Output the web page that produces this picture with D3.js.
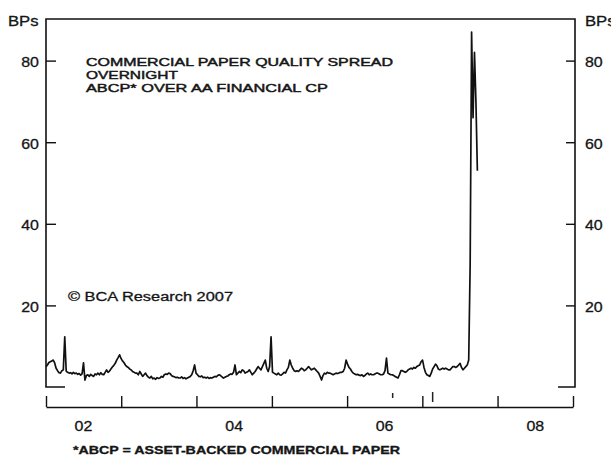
<!DOCTYPE html>
<html>
<head>
<meta charset="utf-8">
<script src="https://d3js.org/d3.v7.min.js"></script>
<style>
  body { margin: 0; background: #fff; }
  svg { display: block; }
  text { font-family: "Liberation Sans", Arial, Helvetica, sans-serif; fill: #151515; stroke: #151515; stroke-width: 0.3px; }
</style>
</head>
<body>
<svg id="chart"></svg>
<script>
// weekly readings, starting first week of 2002 (bp)
const startDate = new Date(2002, 0, 1);
const spread = [
  5.0, 5.4, 6.0, 6.2, 6.4, 6.6, 5.9, 4.6, 4.0, 3.5,
  3.4, 4.0, 4.2, 12.3, 3.9, 3.6, 3.4, 3.5, 3.2, 3.6,
  3.3, 3.4, 3.1, 3.3, 2.9, 3.2, 5.9, 1.7, 2.8, 3.0,
  2.6, 3.1, 2.8, 2.6, 3.2, 3.0, 3.4, 3.0, 3.5, 3.1,
  3.0, 3.6, 4.2, 3.6, 3.9, 4.4, 4.9, 5.3, 5.8, 6.6,
  7.2, 7.9, 7.0, 6.4, 6.0, 5.4, 5.0, 4.8, 4.4, 4.2,
  3.8, 3.6, 3.4, 3.4, 3.0, 3.8, 3.2, 2.6, 3.0, 3.4,
  2.8, 2.4, 2.2, 2.6, 2.0, 2.2, 1.9, 2.3, 2.1, 2.2,
  2.6, 2.4, 3.0, 3.2, 3.1, 3.4, 3.3, 2.8, 2.6, 2.5,
  2.3, 2.4, 2.2, 2.2, 2.5, 2.1, 2.3, 2.0, 2.2, 2.4,
  2.6, 3.0, 4.0, 5.4, 3.4, 3.0, 2.6, 2.5, 2.7, 2.3,
  2.4, 2.2, 2.4, 2.1, 2.3, 2.2, 2.4, 2.6, 2.5, 2.8,
  3.0, 2.8, 2.5, 2.2, 2.4, 2.6, 2.7, 3.0, 3.2, 3.1,
  3.6, 5.4, 3.0, 3.4, 3.8, 3.5, 4.2, 4.0, 3.4, 3.6,
  3.8, 4.2, 3.6, 3.0, 3.4, 3.8, 4.4, 5.0, 4.6, 4.2,
  5.0, 5.8, 6.6, 4.6, 3.8, 5.0, 12.3, 3.6, 3.4, 3.2,
  3.0, 3.4, 3.0, 2.9, 3.2, 3.6, 3.4, 4.2, 4.8, 6.6,
  5.4, 4.6, 4.0, 3.8, 4.0, 3.8, 4.2, 4.6, 4.4, 4.0,
  4.2, 4.6, 5.0, 4.6, 4.2, 4.4, 4.6, 4.2, 3.8, 3.4,
  2.6, 1.7, 2.8, 3.4, 3.2, 3.6, 3.4, 3.4, 3.2, 3.0,
  3.2, 3.4, 3.3, 3.4, 3.6, 3.6, 3.8, 4.6, 6.6, 5.6,
  4.8, 4.4, 3.8, 3.4, 3.2, 3.0, 3.1, 2.9, 2.8, 3.0,
  2.6, 2.8, 3.2, 3.4, 3.0, 3.2, 3.0, 3.0, 3.2, 3.4,
  3.4, 3.2, 3.0, 3.0, 3.2, 4.0, 7.1, 3.4, 3.2, 3.0,
  3.0, 2.8, 2.6, 2.4, 2.2, 3.0, 4.0, 4.0, 3.8, 3.6,
  3.8, 4.2, 4.4, 4.6, 4.4, 4.8, 4.6, 5.0, 5.2, 5.4,
  6.2, 6.6, 4.8, 3.6, 3.0, 2.8, 2.6, 3.4, 4.4, 5.0,
  5.6, 5.2, 4.4, 4.2, 4.4, 4.6, 4.4, 4.6, 4.4, 4.2,
  4.2, 4.6, 5.0, 5.0, 4.8, 5.0, 5.4, 5.8, 4.8, 4.2,
  4.6, 5.0, 5.4, 6.6, 30, 87, 66, 82, 70, 53
];
const yearLabels = ['02', '04', '06', '08'];
const yTicks = [20, 40, 60, 80];
const titleLines = ['COMMERCIAL PAPER QUALITY SPREAD', 'OVERNIGHT', 'ABCP* OVER AA FINANCIAL CP'];
// small stray marks printed just above the date axis
const notchDates = [new Date(2006, 7, 10), new Date(2007, 1, 20)];

const W = 611, H = 457;
const plotLeft = 46, plotRight = 575, plotTop = 19, plotBottom = 387, axisY = 407;

const svg = d3.select('#chart').attr('width', W).attr('height', H);

const data = spread.map((v, i) => ({ date: d3.timeWeek.offset(startDate, i), value: v }));

const x = d3.scaleTime()
  .domain([new Date(2002, 0, 1), new Date(2009, 0, 1)])
  .range([46, 573]);
const y = d3.scaleLinear()
  .domain([0, 90.2])
  .range([plotBottom, plotTop]);

function stretch(sel, sx) {
  sel.each(function () {
    const w = this.getComputedTextLength();
    d3.select(this).attr('textLength', w * sx).attr('lengthAdjust', 'spacingAndGlyphs');
  });
}

// frame: left, top, right, plus bottom corner brackets
const frame = svg.append('g').attr('fill', 'none').attr('stroke', '#111').attr('stroke-width', 1.6);
frame.append('path')
  .attr('d', `M${plotLeft + 19},${plotBottom}H${plotLeft}V${plotTop}H${plotRight}V${plotBottom}H${plotRight - 17}`);

// y axes (ticks point inward)
const yl = svg.append('g')
  .attr('transform', `translate(${plotLeft},0)`)
  .call(d3.axisLeft(y).tickValues(yTicks).tickSize(-10).tickPadding(7));
const yr = svg.append('g')
  .attr('transform', `translate(${plotRight},0)`)
  .call(d3.axisRight(y).tickValues(yTicks).tickSize(-9).tickPadding(10));
[yl, yr].forEach(g => {
  g.select('.domain').remove();
  g.attr('font-family', null);
  g.selectAll('line').attr('stroke', '#111').attr('stroke-width', 1.4);
  g.selectAll('text')
    .attr('dy', null).attr('y', 6)
    .attr('fill', '#151515')
    .style('font-size', '14.5px')
    .call(stretch, 1.1);
});
yl.selectAll('text').attr('x', -7);
yr.selectAll('text').attr('x', 10);

svg.append('text').attr('x', 8).attr('y', 26).style('font-size', '14.5px').text('BPs').call(stretch, 1.15);
svg.append('text').attr('x', 585).attr('y', 26).style('font-size', '14.5px').text('BPs').call(stretch, 1.15);

// date axis below the plot
const xa = svg.append('g')
  .attr('transform', `translate(0,${axisY})`)
  .call(d3.axisBottom(x).ticks(d3.timeYear.every(1)).tickSize(-11).tickSizeOuter(0).tickFormat(''));
xa.select('.domain').attr('stroke', '#111').attr('stroke-width', 1.6);
xa.selectAll('line').attr('stroke', '#111').attr('stroke-width', 1.4);

svg.append('g').selectAll('text')
  .data(yearLabels)
  .join('text')
  .attr('x', d => x(new Date(2000 + (+d), 6, 2)))
  .attr('y', 431)
  .attr('text-anchor', 'middle')
  .style('font-size', '14.5px')
  .text(d => d)
  .call(stretch, 1.1);

svg.append('g').selectAll('line')
  .data(notchDates)
  .join('line')
  .attr('x1', d => x(d)).attr('x2', d => x(d))
  .attr('y1', (d, i) => i ? 392 : 393).attr('y2', (d, i) => i ? 402 : 398)
  .attr('stroke', '#222').attr('stroke-width', 1.5);

// series
const line = d3.line().x(d => x(d.date)).y(d => y(d.value));
svg.append('path')
  .datum(data)
  .attr('fill', 'none')
  .attr('stroke', '#111')
  .attr('stroke-width', 1.7)
  .attr('stroke-linejoin', 'round')
  .attr('d', line);

// title block, tight leading as in the print
const titleWidths = [307, 92, 242];
svg.append('g').selectAll('text')
  .data(titleLines)
  .join('text')
  .attr('x', 86)
  .attr('y', (d, i) => 66.4 + i * 12.6)
  .style('font-size', '11.2px')
  .style('stroke-width', '0.45px')
  .attr('textLength', (d, i) => titleWidths[i])
  .attr('lengthAdjust', 'spacingAndGlyphs')
  .text(d => d);

svg.append('text')
  .attr('x', 68).attr('y', 300.5)
  .style('font-size', '12.5px')
  .attr('textLength', 165).attr('lengthAdjust', 'spacingAndGlyphs')
  .text('\u00A9 BCA Research 2007');

svg.append('text')
  .attr('x', 73).attr('y', 454)
  .style('font-size', '10.5px').style('font-weight', 'bold')
  .attr('textLength', 327).attr('lengthAdjust', 'spacingAndGlyphs')
  .text('*ABCP = ASSET-BACKED COMMERCIAL PAPER');
</script>
</body>
</html>
